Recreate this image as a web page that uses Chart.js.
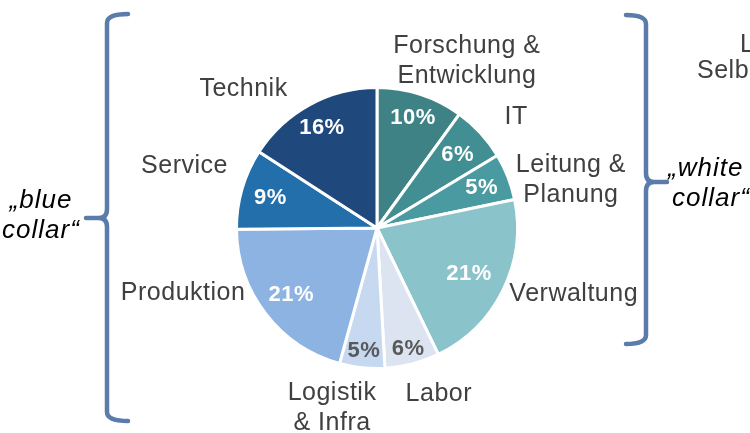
<!DOCTYPE html>
<html>
<head>
<meta charset="utf-8">
<script src="https://cdn.jsdelivr.net/npm/chart.js@4/dist/chart.umd.min.js"></script>
<style>
  html, body { margin: 0; padding: 0; background: #fff; }
  canvas { display: block; }
</style>
</head>
<body>
<canvas id="staffPie" width="750" height="433"></canvas>
<script>
// ========== DATA ========== //
const categories = [
  ["Forschung &", "Entwicklung"],
  ["IT"],
  ["Leitung &", "Planung"],
  ["Verwaltung"],
  ["Labor"],
  ["Logistik", "& Infra"],
  ["Produktion"],
  ["Service"],
  ["Technik"]
];
const shares = [10, 6.4, 5.4, 21.1, 6.3, 5.2, 20.6, 9.3, 15.9];
const sliceColors = [
  "#3E8286", "#418E93", "#4A9AA1", "#8BC3CA",
  "#DCE4F2", "#C6D9F1", "#8DB3E2", "#236FAB", "#1F497D"
];
const groupLeft = ["„blue", "collar“"];
const groupRight = ["„white", "collar“"];
const groupTop = ["Leitende", "Selbständige"];

// ========== LABEL LAYOUT (style only) ========== //
// radius factor for the percent labels inside each slice
const pctRadius = [0.83, 0.78, 0.8, 0.73, 0.88, 0.87, 0.77, 0.79, 0.82];
const pctColor = ["#fff", "#fff", "#fff", "#fff", "#595959", "#595959", "#fff", "#fff", "#fff"];
// outside category labels, offset from pie centre in units of radius
const nameOffset = [
  [0.64, -1.2], [0.99, -0.8], [1.38, -0.35], [1.4, 0.46],
  [0.44, 1.17], [-0.32, 1.27], [-1.38, 0.45], [-1.37, -0.45], [-0.95, -1.0]
];

function drawLines(ctx, lines, x, y, lh) {
  const top = y - (lines.length - 1) * lh / 2;
  lines.forEach((t, i) => ctx.fillText(t, x, top + i * lh));
}

function bracket(ctx, x, xEnd, top, bottom, mid, tip) {
  const d = Math.sign(tip - x);
  ctx.beginPath();
  ctx.moveTo(xEnd, top);
  ctx.quadraticCurveTo(x, top, x, top + 9);
  ctx.lineTo(x, mid - 9);
  ctx.quadraticCurveTo(x, mid, x + d * 8, mid);
  ctx.lineTo(tip, mid);
  ctx.moveTo(x + d * 8, mid);
  ctx.quadraticCurveTo(x, mid, x, mid + 9);
  ctx.lineTo(x, bottom - 9);
  ctx.quadraticCurveTo(x, bottom, xEnd, bottom);
  ctx.stroke();
}

const pieLabels = {
  id: "pieLabels",
  afterDatasetsDraw(chart) {
    const ctx = chart.ctx;
    const arcs = chart.getDatasetMeta(0).data;
    ctx.save();
    ctx.textAlign = "center";
    ctx.textBaseline = "middle";

    arcs.forEach((arc, i) => {
      const { x, y, startAngle, endAngle, outerRadius } =
        arc.getProps(["x", "y", "startAngle", "endAngle", "outerRadius"], true);
      const mid = (startAngle + endAngle) / 2;
      const r = outerRadius * pctRadius[i];

      ctx.font = "bold 22px 'Liberation Sans', Arial, sans-serif";
      ctx.letterSpacing = "0.5px";
      ctx.fillStyle = pctColor[i];
      ctx.fillText(Math.round(shares[i]) + "%", x + Math.cos(mid) * r, y + 1 + Math.sin(mid) * r);

      ctx.font = "25px 'Liberation Sans', Arial, sans-serif";
      ctx.fillStyle = "#404040";
      const [dx, dy] = nameOffset[i];
      drawLines(ctx, categories[i], x + dx * outerRadius, y + 1.5 + dy * outerRadius, 30);
    });

    // group brackets
    ctx.strokeStyle = "#5B7CAB";
    ctx.lineWidth = 4.5;
    ctx.lineCap = "round";
    bracket(ctx, 107, 128, 14, 421, 218, 86);
    bracket(ctx, 646, 626, 15, 344, 182, 667);

    ctx.font = "italic 26px 'Liberation Sans', Arial, sans-serif";
    ctx.letterSpacing = "1px";
    ctx.fillStyle = "#000";
    drawLines(ctx, groupLeft, 41, 216, 30);
    ctx.textAlign = "left";
    ctx.fillText(groupRight[0], 668, 169);
    ctx.fillText(groupRight[1], 672, 199);

    ctx.font = "25px 'Liberation Sans', Arial, sans-serif";
    ctx.letterSpacing = "0.5px";
    ctx.fillStyle = "#404040";
    ctx.fillText(groupTop[0], 740, 45);
    ctx.fillText(groupTop[1], 697, 71);
    ctx.restore();
  }
};

// ========== PIE CHART ========== //
new Chart(document.getElementById("staffPie").getContext("2d"), {
  type: "pie",
  data: {
    labels: categories,
    datasets: [{
      data: shares,
      backgroundColor: sliceColors,
      borderColor: "#fff",
      borderWidth: 3
    }]
  },
  options: {
    responsive: false,
    animation: false,
    layout: {
      padding: { top: 86, bottom: 63, left: 4, right: 0 }
    },
    plugins: {
      legend: { display: false },
      tooltip: { enabled: false },
      title: { display: false }
    }
  },
  plugins: [pieLabels]
});
</script>
</body>
</html>
